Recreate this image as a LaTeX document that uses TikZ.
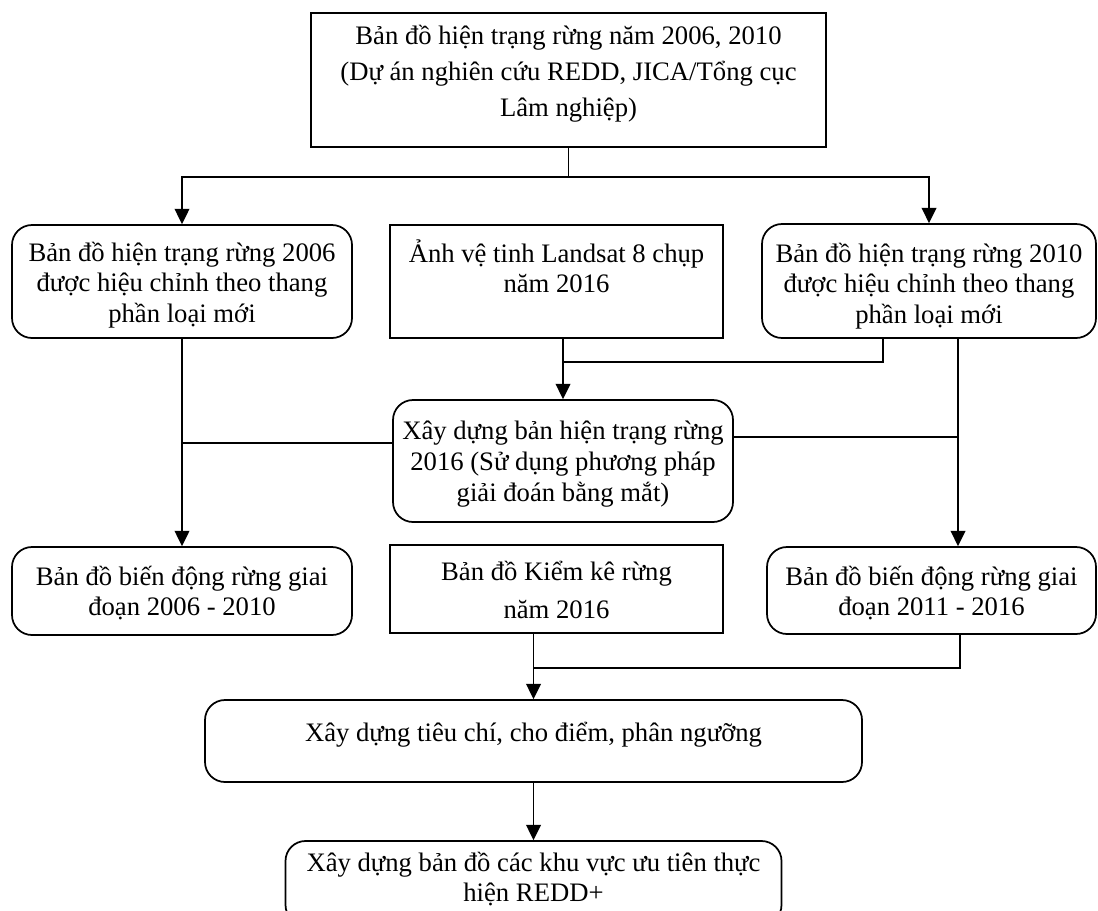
\documentclass[tikz,border=0pt]{standalone}
\usepackage{fontspec}
\setmainfont{Liberation Serif}
\usetikzlibrary{arrows.meta,calc}
\begin{document}
\begin{tikzpicture}[x=0.75pt,y=-0.75pt,
  box/.style={draw,line width=1.3pt,inner sep=0pt},
  rbox/.style={box,rounded corners=15pt},
  txt/.style={align=center,inner sep=0pt,font=\fontsize{20}{22.5}\selectfont},
  conn/.style={line width=1.4pt},
  arr/.style={conn,-{Triangle[length=11.5pt,width=11pt]}}]
\useasboundingbox (0,0) rectangle (1098,910);
\clip (0,0) rectangle (1098,910);
% boxes
\node[box, minimum width=386.25pt, minimum height=100.5pt] (top) at (568.5,80) {};
\node[rbox, minimum width=255pt, minimum height=84.75pt] (L1) at (182,281.5) {};
\node[box, minimum width=249.75pt, minimum height=84.75pt] (M1) at (556.5,281.5) {};
\node[rbox, minimum width=250.5pt, minimum height=85.5pt] (R1) at (929,281) {};
\node[rbox, minimum width=255pt, minimum height=91.5pt] (C) at (563,461) {};
\node[rbox, minimum width=255pt, minimum height=66pt] (L2) at (182,591) {};
\node[box, minimum width=249.75pt, minimum height=66pt] (M2) at (556.5,589) {};
\node[rbox, minimum width=246.75pt, minimum height=65.25pt] (R2) at (931.5,590.5) {};
\node[rbox, minimum width=492.75pt, minimum height=61.5pt] (D) at (533.5,741) {};
\node[rbox, minimum width=372pt, minimum height=63pt] (B) at (533.5,883) {};
% texts
\node[txt, font=\fontsize{20}{27}\selectfont] (ttop) at (568.5,74) {Bản đồ hiện trạng rừng năm 2006, 2010\\(Dự án nghiên cứu REDD, JICA/Tổng cục\\Lâm nghiệp)};
\node[txt, font=\fontsize{20}{23}\selectfont] (tL1) at (182,285) {Bản đồ hiện trạng rừng 2006\\được hiệu chỉnh theo thang\\phần loại mới};
\node[txt] (tM1) at (556.5,266) {Ảnh vệ tinh Landsat 8 chụp\\năm 2016};
\node[txt, font=\fontsize{20}{23}\selectfont] (tR1) at (929,286) {Bản đồ hiện trạng rừng 2010\\được hiệu chỉnh theo thang\\phần loại mới};
\node[txt, font=\fontsize{20}{23.5}\selectfont] (tC) at (563,464) {Xây dựng bản hiện trạng rừng\\2016 (Sử dụng phương pháp\\giải đoán bằng mắt)};
\node[txt, font=\fontsize{20}{22.5}\selectfont] (tL2) at (182,593) {Bản đồ biến động rừng giai\\đoạn 2006 - 2010};
\node[txt, font=\fontsize{20}{29}\selectfont] (tM2) at (556.5,590) {Bản đồ Kiểm kê rừng\\năm 2016};
\node[txt, font=\fontsize{20}{22.5}\selectfont] (tR2) at (931.5,593) {Bản đồ biến động rừng giai\\đoạn 2011 - 2016};
\node[txt] (tD) at (533.5,735) {Xây dựng tiêu chí, cho điểm, phân ngưỡng};
\node[txt] (tB) at (533.5,879) {Xây dựng bản đồ các khu vực ưu tiên thực\\hiện REDD+};
% connectors
\coordinate (j1) at (568.5,177);
\draw[line width=0.9pt] (top.south) -- (j1);
\draw[arr] (j1) -| (L1.north);
\draw[arr] (j1) -| (R1.north);
\draw[arr] (C.north |- M1.south) -- (C.north);
\coordinate (r1a) at (883,338);
\coordinate (j2) at (563,362);
\draw[conn] (r1a) |- (j2);
\draw[arr] (L1.south) -- (L2.north);
\coordinate (cl) at (182,443);
\draw[conn] (cl) -- (C.west |- cl);
\coordinate (r1b) at (958,338);
\draw[arr] (r1b) -- (R2.north -| r1b);
\coordinate (cr) at (958,437);
\draw[conn] (C.east |- cr) -- (cr);
\draw[arr] (D.north |- M2.south) -- (D.north);
\coordinate (r2a) at (960,634);
\coordinate (j3) at (533.5,668);
\draw[conn] (r2a) |- (j3);
\draw[arr] (D.south) -- (B.north);
\end{tikzpicture}
\end{document}
